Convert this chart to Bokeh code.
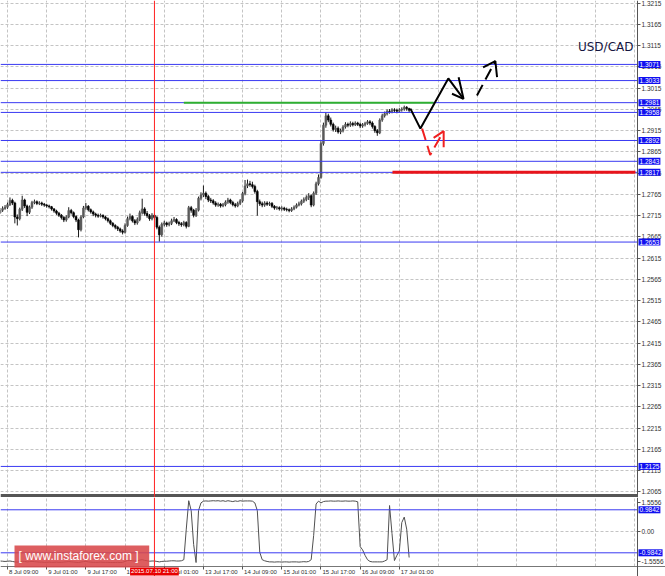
from bokeh.plotting import figure
from bokeh.layouts import column
from bokeh.models import (ColumnDataSource, FixedTicker, Span, Label, Range1d,
                          NumeralTickFormatter, LinearAxis, BoxAnnotation)
from bokeh.embed import file_html
from bokeh.resources import INLINE

# ---------------- data (hourly bars, bar 0 = 8 Jul 09:00) ----------------
start_bar = -3
first_open = 1.2722
close = [
    1.2728, 1.2732, 1.2735, 1.2741, 1.2751, 1.2745, 1.2712, 1.2708, 1.2730, 1.2752,
    1.2738, 1.2723, 1.2735, 1.2746, 1.2748, 1.2744, 1.2745, 1.2742, 1.2740, 1.2738,
    1.2736, 1.2731, 1.2726, 1.2721, 1.2716, 1.2711, 1.2705, 1.2712, 1.2727, 1.2722,
    1.2713, 1.2705, 1.2682, 1.2712, 1.2733, 1.2737, 1.2729, 1.2724, 1.2719, 1.2716,
    1.2714, 1.2716, 1.2712, 1.2708, 1.2703, 1.2697, 1.2692, 1.2688, 1.2684, 1.2679,
    1.2676, 1.2692, 1.2708, 1.2713, 1.2703, 1.2698, 1.2706, 1.2722, 1.2731, 1.2720,
    1.2715, 1.2708, 1.2716, 1.2711, 1.2688, 1.2670, 1.2695, 1.2698, 1.2694, 1.2697,
    1.2703, 1.2706, 1.2699, 1.2696, 1.2694, 1.2699, 1.2690, 1.2734, 1.2728, 1.2716,
    1.2728, 1.2756, 1.2764, 1.2768, 1.2760, 1.2752, 1.2750, 1.2745, 1.2740, 1.2742,
    1.2738, 1.2741, 1.2747, 1.2752, 1.2746, 1.2741, 1.2738, 1.2744, 1.2750, 1.2767,
    1.2785, 1.2790, 1.2788, 1.2784, 1.2772, 1.2748, 1.2743, 1.2740, 1.2745, 1.2742,
    1.2744, 1.2737, 1.2733, 1.2734, 1.2731, 1.2733, 1.2730, 1.2729, 1.2727, 1.2731,
    1.2735, 1.2740, 1.2743, 1.2749, 1.2753, 1.2758, 1.2762, 1.2740, 1.2768, 1.2790,
    1.2805, 1.2885, 1.2928, 1.2950, 1.2940, 1.2930, 1.2918, 1.2921, 1.2912, 1.2915,
    1.2924, 1.2930, 1.2928, 1.2932, 1.2929, 1.2933, 1.2930, 1.2926, 1.2929, 1.2932,
    1.2936, 1.2933, 1.2925, 1.2915, 1.2910, 1.2940, 1.2950, 1.2955, 1.2961, 1.2960,
    1.2964, 1.2963, 1.2961, 1.2964, 1.2966, 1.2970, 1.2967, 1.2963,
]
high = [
    1.2733, 1.2737, 1.2740, 1.2746, 1.2758, 1.2755, 1.2748, 1.2718, 1.2734, 1.2762,
    1.2755, 1.2741, 1.2739, 1.2750, 1.2753, 1.2751, 1.2749, 1.2748, 1.2745, 1.2743,
    1.2741, 1.2738, 1.2733, 1.2729, 1.2724, 1.2719, 1.2714, 1.2716, 1.2735, 1.2731,
    1.2725, 1.2716, 1.2708, 1.2716, 1.2738, 1.2745, 1.2740, 1.2732, 1.2727, 1.2722,
    1.2720, 1.2720, 1.2718, 1.2715, 1.2711, 1.2706, 1.2700, 1.2695, 1.2691, 1.2687,
    1.2683, 1.2697, 1.2713, 1.2720, 1.2716, 1.2707, 1.2711, 1.2727, 1.2755, 1.2735,
    1.2726, 1.2719, 1.2721, 1.2720, 1.2714, 1.2692, 1.2699, 1.2703, 1.2701, 1.2701,
    1.2708, 1.2712, 1.2709, 1.2703, 1.2700, 1.2703, 1.2702, 1.2738, 1.2738, 1.2731,
    1.2733, 1.2760, 1.2770, 1.2786, 1.2772, 1.2764, 1.2757, 1.2754, 1.2749, 1.2746,
    1.2745, 1.2745, 1.2751, 1.2757, 1.2755, 1.2750, 1.2745, 1.2748, 1.2754, 1.2771,
    1.2799, 1.2800, 1.2797, 1.2795, 1.2788, 1.2776, 1.2753, 1.2748, 1.2749, 1.2749,
    1.2748, 1.2747, 1.2740, 1.2738, 1.2737, 1.2737, 1.2736, 1.2734, 1.2732, 1.2735,
    1.2739, 1.2744, 1.2748, 1.2753, 1.2758, 1.2763, 1.2768, 1.2765, 1.2772, 1.2795,
    1.2812, 1.2890, 1.2934, 1.2958, 1.2955, 1.2946, 1.2934, 1.2927, 1.2925, 1.2920,
    1.2928, 1.2935, 1.2934, 1.2937, 1.2936, 1.2937, 1.2936, 1.2934, 1.2933, 1.2936,
    1.2940, 1.2940, 1.2937, 1.2928, 1.2919, 1.2944, 1.2955, 1.2960, 1.2965, 1.2966,
    1.2968, 1.2968, 1.2967, 1.2968, 1.2970, 1.2974, 1.2973, 1.2969,
]
low = [
    1.2719, 1.2724, 1.2729, 1.2731, 1.2738, 1.2740, 1.2697, 1.2692, 1.2704, 1.2726,
    1.2733, 1.2714, 1.2719, 1.2731, 1.2742, 1.2740, 1.2740, 1.2738, 1.2736, 1.2734,
    1.2732, 1.2727, 1.2722, 1.2717, 1.2712, 1.2706, 1.2700, 1.2701, 1.2709, 1.2718,
    1.2709, 1.2700, 1.2664, 1.2678, 1.2709, 1.2729, 1.2725, 1.2720, 1.2714, 1.2711,
    1.2710, 1.2711, 1.2708, 1.2704, 1.2699, 1.2693, 1.2688, 1.2683, 1.2679, 1.2675,
    1.2671, 1.2673, 1.2689, 1.2704, 1.2699, 1.2693, 1.2694, 1.2702, 1.2718, 1.2715,
    1.2710, 1.2703, 1.2704, 1.2706, 1.2683, 1.2654, 1.2666, 1.2690, 1.2689, 1.2690,
    1.2693, 1.2700, 1.2695, 1.2691, 1.2689, 1.2690, 1.2685, 1.2688, 1.2722, 1.2711,
    1.2712, 1.2725, 1.2751, 1.2759, 1.2754, 1.2747, 1.2745, 1.2741, 1.2736, 1.2736,
    1.2734, 1.2735, 1.2737, 1.2743, 1.2742, 1.2737, 1.2734, 1.2735, 1.2740, 1.2746,
    1.2763, 1.2780, 1.2783, 1.2779, 1.2767, 1.2715, 1.2738, 1.2735, 1.2736, 1.2738,
    1.2738, 1.2733, 1.2729, 1.2729, 1.2727, 1.2727, 1.2726, 1.2725, 1.2723, 1.2724,
    1.2728, 1.2732, 1.2737, 1.2739, 1.2745, 1.2749, 1.2752, 1.2735, 1.2737, 1.2764,
    1.2786, 1.2802, 1.2880, 1.2922, 1.2935, 1.2925, 1.2913, 1.2912, 1.2908, 1.2907,
    1.2911, 1.2920, 1.2923, 1.2924, 1.2925, 1.2926, 1.2926, 1.2921, 1.2922, 1.2925,
    1.2929, 1.2928, 1.2920, 1.2910, 1.2903, 1.2907, 1.2936, 1.2946, 1.2951, 1.2955,
    1.2956, 1.2958, 1.2956, 1.2957, 1.2960, 1.2962, 1.2962, 1.2958,
]
indicator = [
    -1.36, -1.37, -1.38, -1.37, -1.36, -1.38, -1.40, -1.41, -1.39, -1.37,
    -1.38, -1.40, -1.39, -1.38, -1.39, -1.40, -1.41, -1.41, -1.42, -1.42,
    -1.41, -1.42, -1.42, -1.41, -1.42, -1.42, -1.41, -1.40, -1.39, -1.40,
    -1.41, -1.42, -1.43, -1.41, -1.39, -1.38, -1.40, -1.41, -1.42, -1.42,
    -1.42, -1.41, -1.42, -1.42, -1.42, -1.43, -1.43, -1.43, -1.42, -1.43,
    -1.42, -1.38, -1.34, -1.33, -1.35, -1.36, -1.35, -1.32, -1.30, -1.33,
    -1.35, -1.37, -1.36, -1.36, -1.38, -1.40, -1.38, -1.37, -1.37, -1.36,
    -1.35, -1.35, -1.36, -1.36, -1.35, -1.30, 0.10, 1.40, 0.95, -0.60,
    -1.43, 0.95, 1.30, 1.38, 1.39, 1.38, 1.39, 1.40, 1.39, 1.40,
    1.38, 1.40, 1.37, 1.40, 1.38, 1.36, 1.39, 1.37, 1.40, 1.38,
    1.39, 1.39, 1.39, 1.38, 1.30, 0.95, -0.96, -1.30, -1.35, -1.38,
    -1.40, -1.40, -1.41, -1.40, -1.40, -1.41, -1.40, -1.40, -1.41, -1.40,
    -1.40, -1.40, -1.41, -1.40, -1.39, -1.40, -1.38, -1.30, -0.20, 1.25,
    1.38, 1.30, 1.36, 1.38, 1.38, 1.39, 1.38, 1.38, 1.39, 1.38,
    1.38, 1.39, 1.38, 1.38, 1.39, 1.38, 1.35, -0.70, -0.85, -1.10,
    -1.30, -1.38, -1.40, -1.40, -1.40, -1.40, -1.40, -1.36, -1.30, 1.18,
    -0.10, -1.34, -1.10, -0.90, 0.40, 0.65, 0.10, -1.20,
]

price_tick_labels = ["1.3215", "1.3165", "1.3115", "1.3065", "1.3015", "1.2965", "1.2915",
                     "1.2865", "1.2815", "1.2765", "1.2715", "1.2665", "1.2615", "1.2565",
                     "1.2515", "1.2465", "1.2415", "1.2365", "1.2315", "1.2265", "1.2215",
                     "1.2165", "1.2115", "1.2065"]
time_tick_bars = [0, 16, 32, 48, 64, 80, 96, 112, 128, 144, 160]
time_tick_labels = ["8 Jul 09:00", "9 Jul 01:00", "9 Jul 17:00", "10 Jul 09:00", "13 Jul 01:00",
                    "13 Jul 17:00", "14 Jul 09:00", "15 Jul 01:00", "15 Jul 17:00",
                    "16 Jul 09:00", "17 Jul 01:00"]
levels = [1.3071, 1.3033, 1.2981, 1.2958, 1.2892, 1.2843, 1.2817, 1.2653, 1.2125]
ind_tick_labels = ["1.5556", "0.00", "-1.5556"]
ind_levels = [0.9842, -0.9842]

marker_bar = 60
marker_text = "2015.07.10 21:00"
green_bars = [72, 174]
green_price = 1.2981
red_bars = [157.2, 256.4]
red_price = 1.2817
black_path_bars = [164.5, 168.6, 180.0, 186.2]
black_path_prices = [1.2967, 1.2920, 1.3038, 1.2990]
black_head_bars = [184.2, 186.2, 181.5]
black_head_prices = [1.3041, 1.2990, 1.3002]
dash_path_bars = [191.7, 199.2]
dash_path_prices = [1.2998, 1.3079]
dash_head_bars = [194.2, 199.2, 199.9]
dash_head_prices = [1.3064, 1.3079, 1.3041]
red_path_bars = [169.3, 172.6, 178.1]
red_path_prices = [1.2920, 1.2858, 1.2914]
red_head_bars = [174.0, 178.1, 178.1]
red_head_prices = [1.2898, 1.2914, 1.2876]

# ---------------- layout constants ----------------
W = 665
PX_PER_BAR = 2.449
X0 = -2.86
X_END = X0 + W / PX_PER_BAR
AXIS_X = 257.25                     # bar position of the price-scale line
MAIN_TOP, MAIN_BOTTOM = 1.32214, 1.20519
SEPARATOR_PRICE = 1.20566
IND_TOP, IND_AXIS, IND_BOTTOM = 1.547, -1.611, -2.069
ind_tick_pos = [1.318, 0, -1.382]   # where the three indicator labels sit

FONT = "Liberation Sans"
AX_FS = "6.5px"
GRID = "#c4c4c4"
BLUE_LINE = "#3a3af2"
BLUE_BOX = "#1010f0"

# ---------------- derived ----------------
n = len(close)
bars = list(range(start_bar, start_bar + n))
opens = [first_open] + close[:-1]
tops = [max(o, c) for o, c in zip(opens, close)]
bottoms = [min(o, c) for o, c in zip(opens, close)]
colors = ["#5a5a5a" if c >= o else "#000000" for o, c in zip(opens, close)]
price_ticks = [float(s) for s in price_tick_labels]
grid_bars = list(range(0, 257, 16))

CHAR_W = {"J": 0.5, "u": 0.556, "l": 0.222, " ": 0.278, ":": 0.278}
def text_w(s, fs=6.0):
    return sum(CHAR_W.get(ch, 0.556) for ch in s) * fs

label_centres = [round(b + (text_w(s) / 2 + 1.5) / PX_PER_BAR, 2)
                 for b, s in zip(time_tick_bars, time_tick_labels)]


def style_axis(ax, fs=AX_FS):
    ax.major_label_text_font = FONT
    ax.major_label_text_font_size = fs
    ax.major_label_text_color = "#303030"
    ax.axis_line_color = "#555555"
    ax.major_tick_line_color = "#555555"
    ax.major_tick_in = 0
    ax.minor_tick_line_color = None


def box_label(fig, lv):
    fig.add_layout(Label(x=AXIS_X, y=lv, x_offset=1, text=f"{lv:.4f}", text_align="left",
                         text_baseline="middle", text_font=FONT, text_font_size=AX_FS,
                         text_color="white", background_fill_color=BLUE_BOX, padding=1))


# ---------------- main price pane ----------------
p = figure(width=W, height=497, frame_width=W, frame_height=497,
           x_range=Range1d(X0, X_END), y_range=Range1d(MAIN_BOTTOM, MAIN_TOP),
           x_axis_location=None, y_axis_location="right", output_backend="svg",
           toolbar_location=None, min_border=0, outline_line_color=None,
           background_fill_color="white", border_fill_color="white")

ya = p.yaxis[0]
ya.fixed_location = AXIS_X
ya.ticker = FixedTicker(ticks=price_ticks)
ya.formatter = NumeralTickFormatter(format="0.0000")
style_axis(ya)
ya.major_tick_out = 3
ya.major_label_standoff = 1

p.ygrid.ticker = FixedTicker(ticks=price_ticks)
p.xgrid.ticker = FixedTicker(ticks=grid_bars)
for g in (p.xgrid[0], p.ygrid[0]):
    g.grid_line_color = GRID
    g.grid_line_dash = "3 2"
p.add_layout(BoxAnnotation(left=AXIS_X, fill_color="white", fill_alpha=1,
                           line_color=None, level="underlay"))

src = ColumnDataSource(dict(x=bars, h=high, l=low, top=tops, bottom=bottoms, color=colors))
p.segment(x0="x", y0="l", x1="x", y1="h", source=src, line_color="#1a1a1a", line_width=1)
p.vbar(x="x", width=0.75, top="top", bottom="bottom", source=src,
       fill_color="color", line_color="color", line_width=0.6)

p.segment(x0=[X0] * len(levels), x1=[AXIS_X] * len(levels), y0=levels, y1=levels,
          line_color=BLUE_LINE, line_width=1)
p.add_layout(Span(location=marker_bar, dimension="height", line_color="#ff2020", line_width=1))

p.line(green_bars, [green_price, green_price], line_color="#2fb030", line_width=2)
p.line(red_bars, [red_price, red_price], line_color="#e8141c", line_width=3)

p.line(black_path_bars, black_path_prices, line_color="black", line_width=2)
p.line(black_head_bars, black_head_prices, line_color="black", line_width=2)
p.line(dash_path_bars, dash_path_prices, line_color="black", line_width=2, line_dash="12 6")
p.line(dash_head_bars, dash_head_prices, line_color="black", line_width=2)
p.line(red_path_bars, red_path_prices, line_color="#f02020", line_width=2, line_dash="12 6")
p.line(red_head_bars, red_head_prices, line_color="#f02020", line_width=2)

p.line([X0, AXIS_X], [SEPARATOR_PRICE, SEPARATOR_PRICE], line_color="#555555", line_width=3)

for lv in levels:
    box_label(p, lv)

p.add_layout(Label(x=255.6, y=1.3113, text="USD/CAD", text_align="right",
                   text_baseline="middle", text_font="DejaVu Sans", text_font_size="12px",
                   text_color="#15153f"))

# ---------------- indicator pane (with the time scale inside its frame) ----------------
q = figure(width=W, height=79, frame_width=W, frame_height=79, x_range=p.x_range,
           y_range=Range1d(IND_BOTTOM, IND_TOP), x_axis_location="below",
           y_axis_location="right", output_backend="svg", toolbar_location=None,
           min_border=0, outline_line_color=None, background_fill_color="white",
           border_fill_color="white")

qa = q.yaxis[0]
qa.fixed_location = AXIS_X
qa.ticker = FixedTicker(ticks=ind_tick_pos)
qa.major_label_overrides = {t: s for t, s in zip(ind_tick_pos, ind_tick_labels)}
style_axis(qa)
qa.major_tick_out = 3
qa.major_label_standoff = 1

xa = q.xaxis[0]
xa.fixed_location = IND_AXIS
xa.ticker = FixedTicker(ticks=label_centres)
xa.major_label_overrides = {c: s for c, s in zip(label_centres, time_tick_labels)}
style_axis(xa, "6px")
xa.major_tick_line_color = None
xa.major_tick_out = 2
xa.major_label_standoff = 1
xa.axis_line_color = "#777777"

tick_axis = LinearAxis(fixed_location=IND_AXIS, ticker=FixedTicker(ticks=time_tick_bars),
                       major_label_text_alpha=0, axis_line_color=None,
                       major_tick_line_color="#555555", major_tick_out=3, major_tick_in=0,
                       minor_tick_line_color=None)
q.add_layout(tick_axis, "below")

q.ygrid.ticker = FixedTicker(ticks=[0])
q.xgrid.ticker = FixedTicker(ticks=grid_bars)
for g in (q.xgrid[0], q.ygrid[0]):
    g.grid_line_color = GRID
    g.grid_line_dash = "3 2"
q.add_layout(BoxAnnotation(left=AXIS_X, fill_color="white", fill_alpha=1,
                           line_color=None, level="underlay"))
q.add_layout(BoxAnnotation(top=IND_AXIS, fill_color="white", fill_alpha=1,
                           line_color=None, level="underlay"))

q.line(bars, indicator, line_color="#505050", line_width=1)
q.segment(x0=[X0] * len(ind_levels), x1=[AXIS_X] * len(ind_levels), y0=ind_levels,
          y1=ind_levels, line_color=BLUE_LINE, line_width=1)
q.add_layout(Span(location=marker_bar, dimension="height", line_color="#ff2020", line_width=1))

for lv in ind_levels:
    box_label(q, lv)

q.add_layout(Label(x=marker_bar, y=IND_AXIS, y_offset=-1, text=marker_text, text_align="center",
                   text_baseline="top", text_font=FONT, text_font_size="6px",
                   text_color="white", background_fill_color="#e80000", padding=1))

q.add_layout(Label(x=2.86, y=-1.153, text="[  www.instaforex.com  ]", text_align="left",
                   text_baseline="middle", text_font=FONT, text_font_size="12px",
                   text_color="white", background_fill_color="#d8484a",
                   background_fill_alpha=0.88, padding=4))

layout = column(p, q, spacing=0)
open("out.html", "w").write(file_html(layout, INLINE))
